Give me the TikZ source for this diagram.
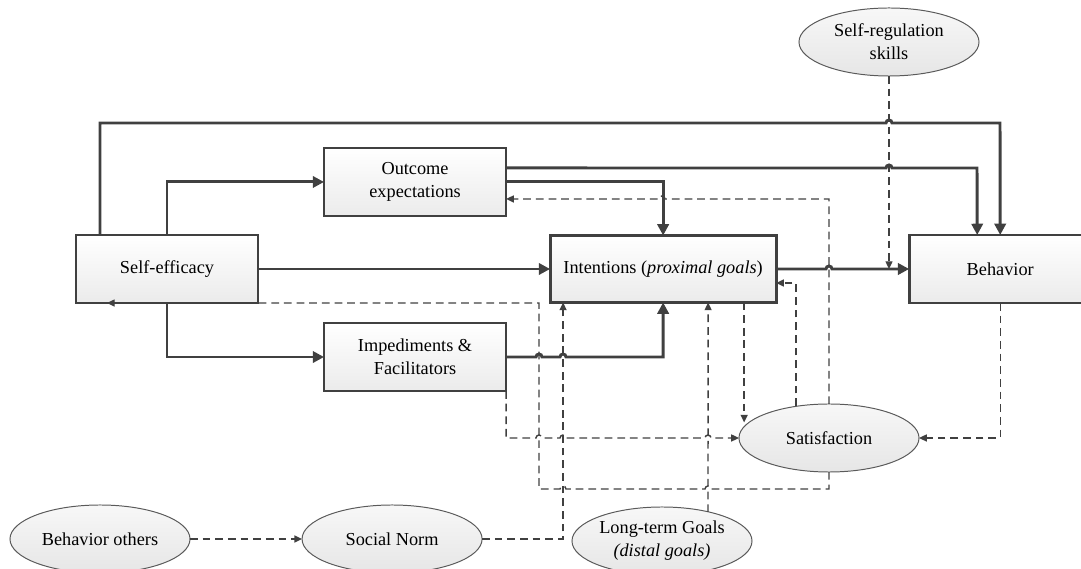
\documentclass[tikz,border=0pt]{standalone}
\usepackage{fontspec}
\setmainfont{Liberation Serif}
\usetikzlibrary{calc, positioning, shapes.geometric, arrows.meta}
\definecolor{linegray}{HTML}{404040}
\definecolor{boxgray}{HTML}{EBEBEB}
\definecolor{ovalgray}{HTML}{E6E6E6}
\definecolor{ovalline}{HTML}{5A5A5A}
\newcommand{\diagfont}{\fontsize{13}{16.5}\selectfont}

\begin{document}
\begin{tikzpicture}[x=0.025cm, y=-0.025cm,
  box/.style = {draw=linegray, line width=2pt, top color=white, bottom color=boxgray,
    minimum width=4.55cm, minimum height=1.7cm, inner sep=0pt, outer sep=0pt,
    align=center, font=\diagfont},
  oval/.style = {ellipse, draw=ovalline, line width=0.7pt, top color=white!97!black, bottom color=ovalgray,
    minimum width=4.5cm, minimum height=1.7cm, inner sep=0pt, outer sep=0pt,
    align=center, font=\diagfont},
  link/.style = {draw=linegray, line width=2.1pt, -{Triangle[length=8pt, width=8pt]}},
  dlink/.style = {draw=linegray, line width=1pt, dash pattern=on 5.5pt off 3.5pt,
    -{Triangle[length=5.5pt, width=5pt]}}]
\useasboundingbox (0,0) rectangle (1081,569);
\clip (0,0) rectangle (1081,569);

% boxes
\node[box] (se) at (167,269) {Self-efficacy};
\node[box, above right = 0.475cm and 1.65cm of se] (oe) {Outcome\\expectations};
\node[box, below right = 0.5cm and 1.65cm of se] (imp) {Impediments \&\\Facilitators};
\node[box, right = 7.3cm of se, minimum width=5.65cm, minimum height=1.675cm] (int) {Intentions (\textit{proximal goals})};
\node[box, right = 3.325cm of int] (beh) {Behavior};

% ovals
\node[oval] (srs) at (889,42) {Self-regulation\\skills};
\node[oval] (sat) at (829,438) {Satisfaction};
\node[oval] (bo) at (100,539) {Behavior others};
\node[oval, right = 2.8cm of bo] (sn) {Social Norm};
\node[oval] (ltg) at (662,541) {Long-term Goals\\\textit{(distal goals)}};

% solid links
\draw[link] ($(se.north west)+(24,0)$) -- (100,123) -- (886,123)
  arc[start angle=180, end angle=360, radius=3] -- (1000,123) -- (beh.north);
\draw[link] (se.north) |- (oe.west);
\draw[link] (se.south) |- (imp.west);
\draw[link] (se.east) -- (int.west);
\draw[link] ($(oe.east)+(0,-14)$) -- (886,168)
  arc[start angle=180, end angle=360, radius=3] -- (977,168) -- ($(beh.north)+(-23,0)$);
\draw[link] (oe.east) -| (int.north);
\draw[link] (imp.east) -- (536,357) arc[start angle=180, end angle=360, radius=3]
  -- (560,357) arc[start angle=180, end angle=360, radius=3] -| (int.south);
\draw[link] (int.east) -- (826,269) arc[start angle=180, end angle=360, radius=3] -- (beh.west);

% dashed links
\draw[dlink] (srs.south) -- (srs.south |- int.east);
\draw[dlink] (sat.north) |- (665,199) arc[start angle=360, end angle=180, radius=3]
  -- ($(oe.east)+(0,17)$);
\draw[dlink] (sat.south) |- (711,489) arc[start angle=360, end angle=180, radius=3]
  -- (566,489) arc[start angle=360, end angle=180, radius=3] -- (539,489) -- (539,303)
  -- ($(se.south west)+(31,0)$);
\draw[dlink] ($(sat.north)+(-33,2)$) |- ($(int.east)+(0,14)$);
\draw[dlink] ($(int.south east)+(-32,0)$) -- ++(0,120);
\draw[dlink] (beh.south) |- (sat.east);
\draw[dlink] (imp.south east) |- (536,438) arc[start angle=180, end angle=360, radius=3]
  -- (560,438) arc[start angle=180, end angle=360, radius=3]
  -- (705,438) arc[start angle=180, end angle=360, radius=3] -- (sat.west);
\draw[dlink] (sn.east) -| ($(int.south west)+(13,0)$);
\draw[dlink] ($(ltg.north)+(46,5)$) -- ($(int.south)+(45,0)$);
\draw[dlink] (bo.east) -- (sn.west);
\end{tikzpicture}
\end{document}
